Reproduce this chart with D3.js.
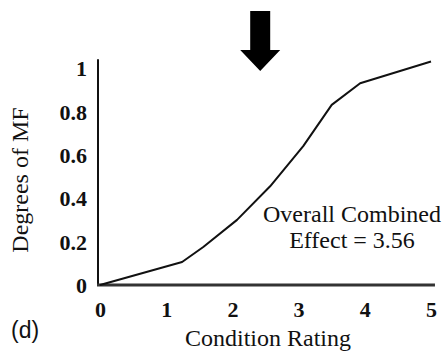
<!DOCTYPE html>
<html>
<head>
<meta charset="utf-8">
<script src="https://cdn.jsdelivr.net/npm/d3@7"></script>
<style>
  html, body { margin: 0; padding: 0; background: #fff; }
  svg { display: block; }
</style>
</head>
<body>
<svg id="chart" width="444" height="356"></svg>
<script>
// Membership function curve: degree of MF against condition rating
const conditionRating = [0, 1.24, 1.56, 2.07, 2.57, 3.07, 3.50, 3.93, 5.0];
const degreesMF       = [0, 0.106, 0.175, 0.30, 0.455, 0.64, 0.83, 0.93, 1.03];

const xTicks = [0, 1, 2, 3, 4, 5];
const yTicks = [0, 0.2, 0.4, 0.6, 0.8, 1];
const yTickLabels = ["0", "0.2", "0.4", "0.6", "0.8", "1"];

const arrowAt = [2.42];          // rating marked by the arrow above the plot
const noteLines = ["Overall Combined", "Effect = 3.56"];
const panelLabel = ["(d)"];

const svg = d3.select("#chart");
const serif = "'Liberation Serif', 'Times New Roman', serif";

const x = d3.scaleLinear().domain([0, 5]).range([100, 431]);
const y = d3.scaleLinear().domain([0, 1]).range([285, 68]);

// axis lines
svg.append("line")
  .attr("x1", 98).attr("x2", 98)
  .attr("y1", y(0) + 1).attr("y2", y(1.04))
  .attr("stroke", "#111").attr("stroke-width", 2);
svg.append("line")
  .attr("x1", 97).attr("x2", x(5.06))
  .attr("y1", y(0)).attr("y2", y(0))
  .attr("stroke", "#333").attr("stroke-width", 3);

// x tick labels
const xAxis = d3.axisBottom(x).tickValues(xTicks).tickSize(0).tickPadding(0)
  .tickFormat(d3.format("d"));
const gx = svg.append("g").attr("transform", `translate(0,${y(0)})`).call(xAxis);
gx.select(".domain").remove();
gx.selectAll("text")
  .attr("dy", null)
  .attr("y", 32)
  .style("font-family", serif).style("font-weight", "bold")
  .style("font-size", "22px").attr("fill", "#111");

// y tick labels
const yAxis = d3.axisLeft(y).tickValues(yTicks).tickSize(0).tickPadding(0)
  .tickFormat((d, i) => yTickLabels[i]);
const gy = svg.append("g").attr("transform", "translate(87,0)").call(yAxis);
gy.select(".domain").remove();
gy.selectAll("text")
  .attr("x", 0).attr("dy", "0.35em")
  .style("font-family", serif).style("font-weight", "bold")
  .style("font-size", "22px").attr("fill", "#111");

// curve
const pts = conditionRating.map((c, i) => [c, degreesMF[i]]);
svg.append("path")
  .datum(pts)
  .attr("d", d3.line().x(d => x(d[0])).y(d => y(d[1])))
  .attr("fill", "none").attr("stroke", "#111")
  .attr("stroke-width", 2).attr("stroke-linejoin", "round");

// downward arrow
svg.selectAll("path.arrow").data(arrowAt).join("path")
  .attr("class", "arrow")
  .attr("d", d => {
    const cx = x(d);
    return `M${cx - 10},11 L${cx + 10},11 L${cx + 10},50 L${cx + 20},50 L${cx},71 L${cx - 20},50 L${cx - 10},50 Z`;
  })
  .attr("fill", "#000");

// annotation
svg.selectAll("text.note").data(noteLines).join("text")
  .attr("class", "note")
  .attr("x", 352).attr("y", (d, i) => 222 + i * 26)
  .attr("text-anchor", "middle")
  .style("font-family", serif).style("font-size", "24px")
  .attr("fill", "#111")
  .text(d => d);

// axis titles
svg.append("text")
  .attr("x", 268).attr("y", 346)
  .attr("text-anchor", "middle")
  .style("font-family", serif).style("font-size", "24px")
  .attr("fill", "#111")
  .text("Condition Rating");

svg.append("text")
  .attr("transform", "translate(28,180) rotate(-90)")
  .attr("text-anchor", "middle")
  .style("font-family", serif).style("font-size", "24px")
  .attr("fill", "#111")
  .text("Degrees of MF");

svg.selectAll("text.panel").data(panelLabel).join("text")
  .attr("class", "panel")
  .attr("x", 11).attr("y", 338)
  .style("font-family", "'Liberation Sans', Arial, sans-serif")
  .style("font-size", "23px")
  .attr("fill", "#111")
  .text(d => d);
</script>
</body>
</html>
